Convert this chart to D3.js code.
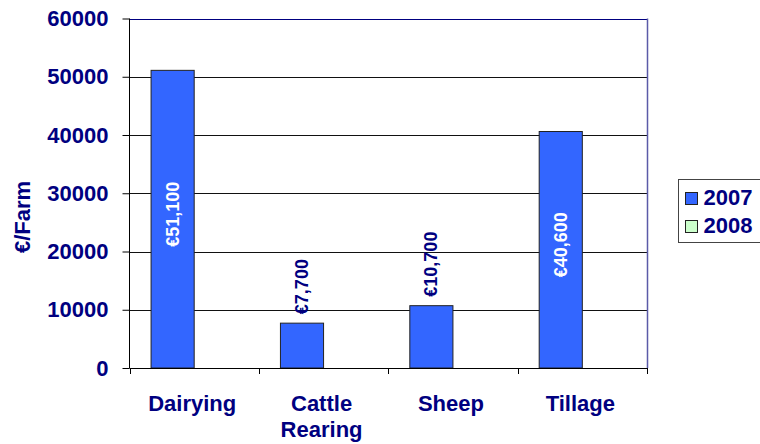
<!DOCTYPE html>
<html>
<head>
<meta charset="utf-8">
<script src="https://cdn.jsdelivr.net/npm/d3@7"></script>
<style>
  body { margin: 0; background: #fff; }
  svg { display: block; font-family: "Liberation Sans", Arial, sans-serif; }
</style>
</head>
<body>
<svg id="chart" width="760" height="444"></svg>
<script>
// chart data
var categories = ["Dairying", "Cattle\nRearing", "Sheep", "Tillage"];
var seriesNames = ["2007", "2008"];
var values2007 = [51100, 7700, 10700, 40600];
var values2008 = [null, null, null, null];   // no 2008 bars drawn in the source
var labels2007 = ["€51,100", "€7,700", "€10,700", "€40,600"];
var labelInside = [true, false, false, true];
var yTicks = [0, 10000, 20000, 30000, 40000, 50000, 60000];
var seriesColors = ["#3366FF", "#CCFFCC"];

var navy = "#000080";

var svg = d3.select("#chart");

var plot = { left: 129.5, right: 647, top: 18.5, bottom: 368 };

var x = d3.scaleBand()
  .domain(categories)
  .range([plot.left, plot.right])
  .paddingInner(0)
  .paddingOuter(0);

var xSeries = d3.scaleBand()
  .domain(seriesNames)
  .range([0, x.bandwidth()])
  .paddingInner(0)
  .paddingOuter(0.5);

var y = d3.scaleLinear()
  .domain([0, 60000])
  .range([plot.bottom, plot.top]);

/**
 * gridlines (the top one is the navy plot border)
 */
svg.append("g")
  .selectAll("line")
  .data(yTicks.filter(function (t) { return t > 0; }))
  .join("line")
  .attr("x1", plot.left)
  .attr("x2", plot.right)
  .attr("y1", function (d) { return Math.round(y(d)) + 0.5; })
  .attr("y2", function (d) { return Math.round(y(d)) + 0.5; })
  .attr("stroke", function (d) { return d === 60000 ? navy : "#111"; })
  .attr("stroke-width", function (d) { return d === 60000 ? 1.5 : 1; })
  .attr("shape-rendering", "crispEdges");

// right border of plot area
svg.append("line")
  .attr("x1", plot.right + 0.5).attr("x2", plot.right + 0.5)
  .attr("y1", plot.top).attr("y2", plot.bottom)
  .attr("stroke", "#5a5aa8")
  .attr("stroke-width", 1.5);

/**
 * bars
 */
var series = [values2007, values2008];
series.forEach(function (vals, si) {
  svg.append("g")
    .selectAll("rect")
    .data(vals.map(function (v, i) { return { v: v, cat: categories[i] }; })
      .filter(function (d) { return d.v != null; }))
    .join("rect")
    .attr("x", function (d) { return x(d.cat) + xSeries(seriesNames[si]); })
    .attr("y", function (d) { return y(d.v); })
    .attr("width", xSeries.bandwidth())
    .attr("height", function (d) { return y(0) - y(d.v); })
    .attr("fill", seriesColors[si])
    .attr("stroke", "#222")
    .attr("stroke-width", 1);
});

// value labels for 2007
svg.append("g")
  .selectAll("text")
  .data(values2007.map(function (v, i) { return { v: v, i: i }; }))
  .join("text")
  .attr("transform", function (d) {
    var cx = x(categories[d.i]) + xSeries("2007") + xSeries.bandwidth() / 2;
    var cy = labelInside[d.i] ? (y(d.v) + y(0)) / 2 - 5 : y(d.v) - 9;
    return "translate(" + cx + "," + cy + ") rotate(-90)";
  })
  .attr("text-anchor", function (d) { return labelInside[d.i] ? "middle" : "start"; })
  .attr("dominant-baseline", "central")
  .attr("font-size", "18px")
  .attr("font-weight", "bold")
  .attr("fill", function (d) { return labelInside[d.i] ? "#fff" : navy; })
  .text(function (d) { return labels2007[d.i]; });

/**
 * axes
 */
var yAxis = svg.append("g")
  .attr("transform", "translate(" + plot.left + ",0)")
  .call(d3.axisLeft(y).tickValues(yTicks).tickFormat(d3.format("d")).tickSize(7).tickPadding(14));
yAxis.select(".domain").attr("stroke", "#000").attr("d", "M0," + plot.top + "V" + plot.bottom);
yAxis.selectAll(".tick line").attr("stroke", "#000");
yAxis.selectAll(".tick text")
  .attr("font-size", "22px")
  .attr("font-weight", "bold")
  .attr("font-family", "Liberation Sans, Arial, sans-serif")
  .attr("fill", navy);

// x axis line with tick marks at category boundaries
svg.append("line")
  .attr("x1", plot.left).attr("x2", plot.right)
  .attr("y1", plot.bottom + 0.5).attr("y2", plot.bottom + 0.5)
  .attr("stroke", "#000");

var bounds = categories.map(function (c) { return x(c); }).concat([plot.right]);
svg.append("g")
  .selectAll("line")
  .data(bounds)
  .join("line")
  .attr("x1", function (d) { return Math.round(d) + 0.5; })
  .attr("x2", function (d) { return Math.round(d) + 0.5; })
  .attr("y1", plot.bottom)
  .attr("y2", plot.bottom + 6)
  .attr("stroke", "#000");

// category labels (multi-line)
var catText = svg.append("g")
  .selectAll("text")
  .data(categories)
  .join("text")
  .attr("x", function (d) { return x(d) + x.bandwidth() / 2 - 2; })
  .attr("y", 411)
  .attr("text-anchor", "middle")
  .attr("font-size", "22px")
  .attr("font-weight", "bold")
  .attr("fill", navy);
catText.each(function (d) {
  var t = d3.select(this);
  d.split("\n").forEach(function (line, li) {
    t.append("tspan")
      .attr("x", t.attr("x"))
      .attr("dy", li === 0 ? 0 : 26)
      .text(line);
  });
});

// y axis title
svg.append("text")
  .attr("transform", "translate(22,217) rotate(-90)")
  .attr("text-anchor", "middle")
  .attr("dominant-baseline", "central")
  .attr("font-size", "22px")
  .attr("font-weight", "bold")
  .attr("fill", navy)
  .text("€/Farm");

/**
 * legend
 */
var legend = svg.append("g").attr("transform", "translate(678.5,179.5)");
legend.append("rect")
  .attr("width", 100)
  .attr("height", 63)
  .attr("fill", "#fff")
  .attr("stroke", "#444")
  .attr("stroke-width", 1);

var items = legend.selectAll("g.item")
  .data(seriesNames)
  .join("g")
  .attr("class", "item")
  .attr("transform", function (d, i) { return "translate(7," + (13 + i * 28) + ")"; });
items.append("rect")
  .attr("width", 12)
  .attr("height", 12)
  .attr("fill", function (d, i) { return seriesColors[i]; })
  .attr("stroke", "#222");
items.append("text")
  .attr("x", 18)
  .attr("y", 12.5)
  .attr("font-size", "22px")
  .attr("font-weight", "bold")
  .attr("fill", navy)
  .text(function (d) { return d; });
</script>
</body>
</html>
